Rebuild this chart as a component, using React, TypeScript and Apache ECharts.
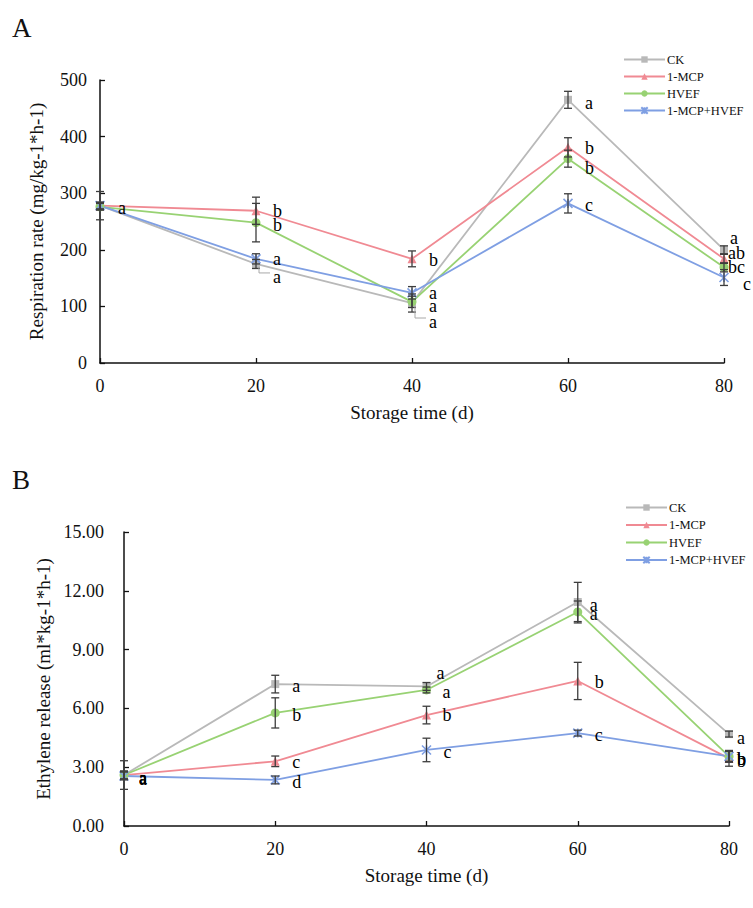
import React, { useEffect, useRef } from "react";
import * as echarts from "echarts";

// Storage days sampled
const days = [0, 20, 40, 60, 80];
const treatments = ["CK", "1-MCP", "HVEF", "1-MCP+HVEF"];

// Respiration rate (mg/kg-1*h-1)
const respCK = [278, 175, 106, 465, 200];
const respMCP = [278, 269, 184, 381, 184];
const respHVEF = [276, 248, 108, 361, 169];
const respCombo = [278, 184, 124, 282, 151];
const respCKErr = [25, 8, 16, 15, 7];
const respMCPErr = [6, 24, 14, 17, 8];
const respHVEFErr = [6, 34, 10, 15, 8];
const respComboErr = [6, 9, 11, 17, 14];
const respLetters = [
  ["a", "a", "a", "a", "a"],
  ["", "b", "b", "b", "ab"],
  ["", "b", "a", "b", "bc"],
  ["", "a", "a", "c", "c"],
];

// Ethylene release (ml*kg-1*h-1)
const ethCK = [2.6, 7.24, 7.12, 11.43, 4.69];
const ethMCP = [2.6, 3.3, 5.66, 7.4, 3.45];
const ethHVEF = [2.6, 5.77, 6.94, 10.92, 3.55];
const ethCombo = [2.55, 2.35, 3.88, 4.74, 3.55];
const ethCKErr = [0.73, 0.45, 0.2, 1.0, 0.15];
const ethMCPErr = [0.2, 0.27, 0.45, 0.95, 0.4];
const ethHVEFErr = [0.2, 0.77, 0.15, 0.56, 0.25];
const ethComboErr = [0.2, 0.2, 0.6, 0.15, 0.3];
const ethLetters = [
  ["a", "a", "a", "a", "a"],
  ["a", "c", "b", "b", "b"],
  ["a", "b", "a", "a", "b"],
  ["a", "d", "c", "c", "b"],
];

const yTicksEth = [0, 3, 6, 9, 12, 15];

// Pixel nudges for the significance letters [dx, dy, leader]
const respNudge = [
  [[18, 2, 0], [17, 13, 1], [17, 19, 1], [17, 3, 0], [6, -12, 0]],
  [[18, 2, 0], [17, 0, 0], [17, 1, 0], [17, 1, 0], [4, -6, 0]],
  [[18, 2, 0], [17, 2, 0], [17, 4, 0], [17, 9, 0], [4, 0, 0]],
  [[18, 2, 0], [17, 0, 0], [17, 0, 0], [17, 2, 0], [19, 6, 0]],
];
const ethNudge = [
  [[15, 3, 0], [17, 2, 0], [10, -13, 0], [12, 3, 0], [8, 4, 0]],
  [[15, 3, 0], [17, 1, 0], [16, 0, 0], [17, 1, 0], [8, 3, 0]],
  [[15, 3, 0], [17, 2, 0], [16, 2, 0], [12, 2, 0], [8, 3, 0]],
  [[15, 3, 0], [17, 2, 0], [17, 2, 0], [17, 2, 0], [8, 3, 0]],
];

const COLORS = ["#b9b9b9", "#f08a93", "#98d273", "#7f9fe3"];
const SYMBOLS = [
  "rect",
  "triangle",
  "circle",
  "path://M0,0L10,10M10,0L0,10M5,0L5,10",
];
const SYMBOL_SIZES = [8, 9, 9, 9];
const FONT = '"Liberation Serif", "Times New Roman", serif';

function lineSeries(values: number[][], gridIdx: number) {
  return values.map((vals, i) => ({
    name: treatments[i],
    type: "line",
    xAxisIndex: gridIdx,
    yAxisIndex: gridIdx,
    data: days.map((d, j) => [d, vals[j]]),
    symbol: SYMBOLS[i],
    symbolSize: SYMBOL_SIZES[i],
    showAllSymbol: true,
    color: COLORS[i],
    lineStyle: { color: COLORS[i], width: 1.8 },
    itemStyle:
      i === 3
        ? { color: COLORS[i], borderColor: COLORS[i], borderWidth: 1.6 }
        : { color: COLORS[i] },
    z: 2,
  }));
}

function errorSeries(values: number[][], errs: number[][], gridIdx: number) {
  const rows: number[][] = [];
  values.forEach((vals, i) =>
    days.forEach((d, j) => rows.push([d, vals[j] - errs[i][j], vals[j] + errs[i][j]]))
  );
  return {
    type: "custom",
    xAxisIndex: gridIdx,
    yAxisIndex: gridIdx,
    data: rows,
    encode: { x: 0, y: [1, 2] },
    clip: false,
    silent: true,
    z: 3,
    renderItem: (_params: any, api: any) => {
      const x = api.value(0);
      const lo = api.coord([x, api.value(1)]);
      const hi = api.coord([x, api.value(2)]);
      const w = 4;
      const st = { stroke: "#3d3d3d", lineWidth: 1.3 };
      return {
        type: "group",
        children: [
          { type: "line", shape: { x1: lo[0], y1: lo[1], x2: hi[0], y2: hi[1] }, style: st },
          { type: "line", shape: { x1: lo[0] - w, y1: lo[1], x2: lo[0] + w, y2: lo[1] }, style: st },
          { type: "line", shape: { x1: hi[0] - w, y1: hi[1], x2: hi[0] + w, y2: hi[1] }, style: st },
        ],
      };
    },
  };
}

function letterSeries(
  values: number[][],
  letters: string[][],
  nudge: number[][][],
  gridIdx: number
) {
  const rows: number[][] = [];
  values.forEach((vals, i) =>
    days.forEach((d, j) => {
      if (letters[i][j]) rows.push([d, vals[j], i, j]);
    })
  );
  return {
    type: "custom",
    xAxisIndex: gridIdx,
    yAxisIndex: gridIdx,
    data: rows,
    encode: { x: 0, y: 1 },
    clip: false,
    silent: true,
    z: 4,
    renderItem: (_params: any, api: any) => {
      const p = api.coord([api.value(0), api.value(1)]);
      const si = api.value(2);
      const di = api.value(3);
      const [dx, dy, leader] = nudge[si][di];
      const tx = p[0] + dx;
      const ty = p[1] + dy;
      const children: any[] = [
        {
          type: "text",
          x: tx,
          y: ty,
          style: {
            text: letters[si][di],
            font: `18px ${FONT}`,
            fill: "#000",
            align: "left",
            verticalAlign: "middle",
          },
        },
      ];
      if (leader) {
        children.push({
          type: "polyline",
          shape: {
            points: [
              [p[0] + 3, p[1] + 4],
              [p[0] + 3, ty - 4],
              [tx - 3, ty - 4],
            ],
          },
          style: { stroke: "#a8a8a8", lineWidth: 1, fill: "none" },
        });
      }
      return { type: "group", children };
    },
  };
}

const axisLine = { show: true, lineStyle: { color: "#111", width: 1.5 } };
const axisTick = { show: true, inside: true, length: 5, lineStyle: { color: "#111", width: 1.3 } };
const labelStyle = { fontFamily: FONT, fontSize: 18, color: "#111" };

export default function App() {
  const ref = useRef<HTMLDivElement>(null);

  useEffect(() => {
    if (!ref.current) return;
    const chart = echarts.init(ref.current, undefined, { renderer: "svg" });
    const respVals = [respCK, respMCP, respHVEF, respCombo];
    const respErrs = [respCKErr, respMCPErr, respHVEFErr, respComboErr];
    const ethVals = [ethCK, ethMCP, ethHVEF, ethCombo];
    const ethErrs = [ethCKErr, ethMCPErr, ethHVEFErr, ethComboErr];

    const xAxisBase = {
      type: "value",
      min: 0,
      max: 80,
      interval: 20,
      splitLine: { show: false },
      axisLine,
      axisTick,
      axisLabel: { ...labelStyle, margin: 14 },
      name: "Storage time (d)",
      nameLocation: "middle",
      nameGap: 40,
      nameTextStyle: { fontFamily: FONT, fontSize: 19, color: "#111" },
    };

    const legendText = { fontFamily: FONT, fontSize: 12.5, color: "#111", padding: [0, 0, 0, -3] };

    chart.setOption({
      animation: false,
      backgroundColor: "#fff",
      textStyle: { fontFamily: FONT },
      grid: [
        { left: 100, right: 29, top: 80, height: 283 },
        { left: 124, right: 24, top: 532, height: 294 },
      ],
      xAxis: [
        { ...xAxisBase, gridIndex: 0 },
        { ...xAxisBase, gridIndex: 1 },
      ],
      yAxis: [
        {
          type: "value",
          gridIndex: 0,
          min: 0,
          max: 500,
          interval: 100,
          splitLine: { show: false },
          axisLine,
          axisTick,
          axisLabel: { ...labelStyle, margin: 13 },
          name: "Respiration rate (mg/kg-1*h-1)",
          nameLocation: "middle",
          nameGap: 54,
          nameTextStyle: { fontFamily: FONT, fontSize: 19, color: "#111" },
        },
        {
          type: "value",
          gridIndex: 1,
          min: yTicksEth[0],
          max: yTicksEth[yTicksEth.length - 1],
          interval: 3,
          splitLine: { show: false },
          axisLine,
          axisTick,
          axisLabel: { ...labelStyle, margin: 20, formatter: (v: number) => v.toFixed(2) },
          name: "Ethylene release (ml*kg-1*h-1)",
          nameLocation: "middle",
          nameGap: 70,
          nameTextStyle: { fontFamily: FONT, fontSize: 19, color: "#111" },
        },
      ],
      legend: [
        {
          data: treatments,
          orient: "vertical",
          left: 618,
          top: 48,
          itemWidth: 41,
          itemHeight: 8,
          itemGap: 4,
          textStyle: legendText,
          selectedMode: false,
        },
        {
          data: treatments,
          orient: "vertical",
          left: 620,
          top: 496,
          itemWidth: 41,
          itemHeight: 8,
          itemGap: 4.5,
          textStyle: legendText,
          selectedMode: false,
        },
      ],
      graphic: [
        { type: "text", left: 12, top: 14, style: { text: "A", font: `27px ${FONT}`, fill: "#111" } },
        { type: "text", left: 12, top: 466, style: { text: "B", font: `27px ${FONT}`, fill: "#111" } },
      ],
      series: [
        ...lineSeries(respVals, 0),
        errorSeries(respVals, respErrs, 0),
        letterSeries(respVals, respLetters, respNudge, 0),
        ...lineSeries(ethVals, 1),
        errorSeries(ethVals, ethErrs, 1),
        letterSeries(ethVals, ethLetters, ethNudge, 1),
      ],
    });
    return () => chart.dispose();
  }, []);

  return (
    <div
      ref={ref}
      style={{ position: "absolute", left: 0, top: 0, width: 753, height: 908, background: "#fff" }}
    />
  );
}
